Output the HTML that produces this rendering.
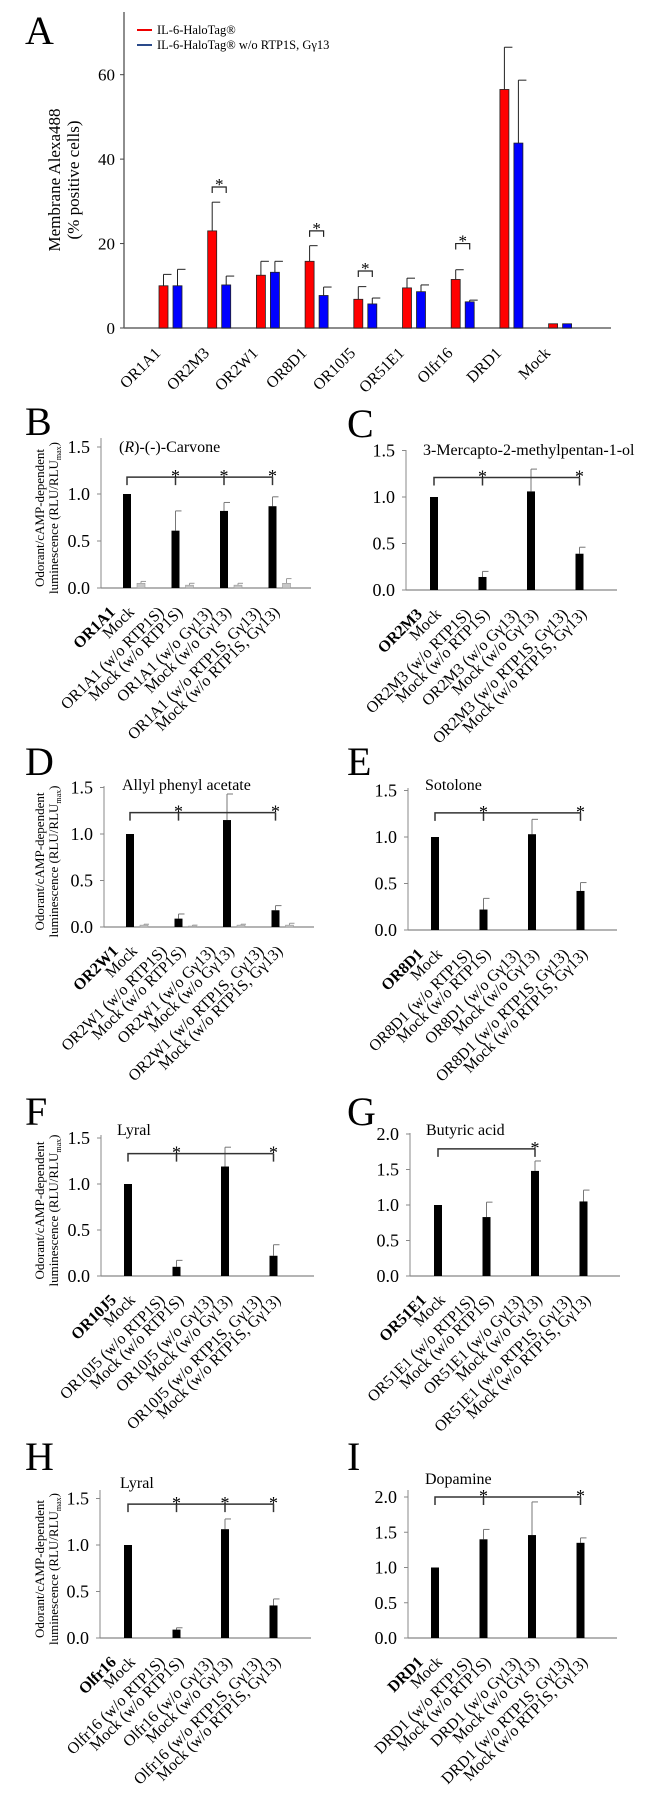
<!DOCTYPE html>
<html><head><meta charset="utf-8"><style>
html,body{margin:0;padding:0;background:#fff}
svg{display:block;font-family:"Liberation Serif","DejaVu Serif",serif}
</style></head><body>
<svg id="fig" width="657" height="1799" viewBox="0 0 657 1799">
<g id="pa"></g>
<g id="panels"></g>
</svg>
<script>
// Panel A data
const aCats = ["OR1A1","OR2M3","OR2W1","OR8D1","OR10J5","OR51E1","Olfr16","DRD1","Mock"];
const aRed = [10,23,12.5,15.8,6.8,9.5,11.5,56.5,1];
const aRedErr = [12.7,29.8,15.8,19.5,9.8,11.8,13.8,66.5,1];
const aBlue = [10,10.2,13.2,7.7,5.7,8.6,6.2,43.8,1];
const aBlueErr = [13.9,12.3,15.8,9.7,7.1,10.2,6.6,58.7,1];
const aTicks = [0,20,40,60];
const aSig = [1,3,4,6];
const aSigVal = [33.4,23,13.5,20];

// Panel B-I data
const bVals=[1,0.61,0.82,0.87], bErr=[1,0.82,0.91,0.97], bGray=[0.05,0.03,0.03,0.05], bGrayErr=[0.07,0.05,0.05,0.1], bStars=[1,2,3];
const cVals=[1,0.14,1.06,0.39], cErr=[1,0.2,1.3,0.46], cStars=[1,3];
const dVals=[1,0.09,1.15,0.18], dErr=[1,0.14,1.43,0.23], dGray=[0.02,0.01,0.02,0.02], dGrayErr=[0.03,0.02,0.03,0.04], dStars=[1,3];
const eVals=[1,0.22,1.03,0.42], eErr=[1,0.34,1.19,0.51], eStars=[1,3];
const fVals=[1,0.1,1.19,0.22], fErr=[1,0.17,1.4,0.34], fStars=[1,3];
const gVals=[1,0.83,1.48,1.05], gErr=[1,1.04,1.62,1.21], gStars=[2];
const hVals=[1,0.09,1.17,0.35], hErr=[1,0.11,1.28,0.42], hStars=[1,2,3];
const iVals=[1,1.4,1.46,1.35], iErr=[1,1.54,1.93,1.42], iStars=[1,3];
const ticks15=[0,0.5,1.0,1.5];
const ticks20=[0,0.5,1.0,1.5,2.0];

const NS="http://www.w3.org/2000/svg";
function el(parent,tag,attrs,text){const e=document.createElementNS(NS,tag);for(const k in attrs)e.setAttribute(k,attrs[k]);if(text!==undefined)e.textContent=text;parent.appendChild(e);return e;}

// ---- Panel A ----
(function(){
const g=document.getElementById('pa');
const ax=124, axEnd=611, base=328, ppu=4.222, top=12;
const y=v=>base-v*ppu;
const xr=i=>163.5+i*48.7;
let t=el(g,'text',{x:25,y:44,'font-size':40});t.textContent='A';


let l=el(g,'line',{x1:ax,y1:top,x2:ax,y2:base,stroke:'#444','stroke-width':1.2});


l=el(g,'line',{x1:ax,y1:base,x2:axEnd,y2:base,stroke:'#666','stroke-width':1.5});


aTicks.forEach(v=>{
  el(g,'line',{x1:ax-4,y1:y(v),x2:ax,y2:y(v),stroke:'#444'});
  const tt=el(g,'text',{x:ax-9,y:y(v)+6,'font-size':17,'text-anchor':'end'},String(v));
  
  
});
const yt=el(g,'text',{transform:'translate(60,180) rotate(-90)','font-size':17,'text-anchor':'middle'},'Membrane Alexa488');


const yt2=el(g,'text',{transform:'translate(79,180) rotate(-90)','font-size':17,'text-anchor':'middle'},'(% positive cells)');


el(g,'line',{x1:137,y1:30,x2:152,y2:30,stroke:'#e00','stroke-width':2});
let lt=el(g,'text',{x:157,y:34,'font-size':12.5},'IL-6-HaloTag®');


el(g,'line',{x1:137,y1:45,x2:152,y2:45,stroke:'#2a4a8a','stroke-width':2});
lt=el(g,'text',{x:157,y:49,'font-size':12.5},'IL-6-HaloTag® w/o RTP1S, Gγ13');


aCats.forEach((c,i)=>{
  const rx=xr(i), bx=rx+14;
  [[rx,aRed[i],aRedErr[i],'#f00'],[bx,aBlue[i],aBlueErr[i],'#00f']].forEach(([cx,v,e,col],k)=>{
    if(e>v+0.05){el(g,'line',{x1:cx,y1:y(e),x2:cx,y2:y(v),stroke:'#222','stroke-width':1});
      el(g,'line',{x1:cx,y1:y(e),x2:cx+8,y2:y(e),stroke:'#222','stroke-width':1});}
    const r=el(g,'rect',{x:cx-4.5,y:y(v),width:9,height:base-y(v),fill:col,stroke:'#222','stroke-width':0.8});
    
    
  });
  const lab=el(g,'text',{transform:`translate(${rx-2},354) rotate(-45)`,'font-size':16,'text-anchor':'end'},c);
  
  
});
aSig.forEach((i,k)=>{
  const x1=xr(i),x2=xr(i)+14,yy=y(aSigVal[k]);
  el(g,'path',{d:`M${x1},${yy+6}V${yy}H${x2}V${yy+6}`,fill:'none',stroke:'#222','stroke-width':1.2});
  const s=el(g,'text',{x:(x1+x2)/2,y:yy+3,'font-size':17,'text-anchor':'middle'},'*');
  
  
});
})();

// ---- Panels B-I ----
function drawPanel(p){
  const root=document.getElementById('panels');
  const g=el(root,'g',{});
  
  
  const y=v=>p.base-v*p.ppu;
  const bx=k=>p.bar0+k*48.5;
  const L=el(g,'text',{x:p.lx,y:p.ly,'font-size':40},p.letter);
  
  
  let a=el(g,'line',{x1:p.ax,y1:p.top,x2:p.ax,y2:p.base,stroke:'#888','stroke-width':1});
  
  
  a=el(g,'line',{x1:p.ax,y1:p.base,x2:p.axEnd,y2:p.base,stroke:'#888','stroke-width':1.2});
  
  
  p.ticks.forEach(v=>{
    el(g,'line',{x1:p.ax-4,y1:y(v),x2:p.ax,y2:y(v),stroke:'#888'});
    const t=el(g,'text',{x:p.ax-11,y:y(v)+6,'font-size':18,'text-anchor':'end'},v.toFixed(1));
    
    
  });
  if(p.ytitle){
    const cy=(p.top+p.base)/2+5;
    const t1=el(g,'text',{transform:`translate(44,${cy}) rotate(-90)`,'font-size':13,'text-anchor':'middle'},'Odorant/cAMP-dependent');
    
    
    const t2=el(g,'text',{transform:`translate(58,${cy}) rotate(-90)`,'font-size':13,'text-anchor':'middle'});
    
    
    t2.appendChild(document.createTextNode('luminescence (RLU/RLU'));
    el(t2,'tspan',{'font-size':8,dy:3},'max');
    el(t2,'tspan',{dy:-3},')');
  }
  const tt=el(g,'text',{x:p.tx,y:p.ty,'font-size':16});
  
  
  if(p.italicR){tt.appendChild(document.createTextNode('('));el(tt,'tspan',{'font-style':'italic'},'R');tt.appendChild(document.createTextNode(')-(-)-Carvone'));}
  else tt.textContent=p.title;
  p.vals.forEach((v,k)=>{
    const cx=bx(k);
    if(p.err[k]>v+0.005){el(g,'line',{x1:cx,y1:y(p.err[k]),x2:cx,y2:y(v),stroke:'#777','stroke-width':1});
      el(g,'line',{x1:cx,y1:y(p.err[k]),x2:cx+6,y2:y(p.err[k]),stroke:'#777','stroke-width':1});}
    const r=el(g,'rect',{x:cx-4,y:y(v),width:8,height:p.base-y(v),fill:'#000'});
    
    
    if(p.gray){
      const gx=cx+14,gv=p.gray[k],ge=p.grayErr[k];
      el(g,'line',{x1:gx,y1:y(ge),x2:gx,y2:y(gv),stroke:'#999','stroke-width':1});
      el(g,'line',{x1:gx,y1:y(ge),x2:gx+5,y2:y(ge),stroke:'#999','stroke-width':1});
      const r2=el(g,'rect',{x:gx-4,y:y(gv),width:8,height:p.base-y(gv),fill:'#c8c8c8',stroke:'#999','stroke-width':0.6});
      
      
    }
  });
  const P=p.prefix;
  const labs=[P,'Mock',P+' (w/o RTP1S)','Mock (w/o RTP1S)',P+' (w/o Gγ13)','Mock (w/o Gγ13)',P+' (w/o RTP1S, Gγ13)','Mock (w/o RTP1S, Gγ13)'];
  labs.forEach((s,j)=>{
    const k=Math.floor(j/2);
    const lx=bx(k)+(j%2?8:-11);
    const ly=p.base+25;
    const t=el(g,'text',{transform:`translate(${lx},${ly}) rotate(-45)`,'font-size':16,'text-anchor':'end','font-weight':j===0?'bold':'normal'},s);
    
    
  });
  const by=y(p.bracket), last=p.stars[p.stars.length-1];
  let d=`M${bx(0)},${by+8}V${by}H${bx(last)}`;
  p.stars.forEach(s=>{d+=`M${bx(s)},${by}V${by+8}`;});
  const br=el(g,'path',{d:d,fill:'none',stroke:'#333','stroke-width':1.5});
  
  
  p.stars.forEach(s=>{
    const st=el(g,'text',{x:bx(s),y:by+5,'font-size':18,'text-anchor':'middle'},'*');
    
    
  });
}
drawPanel({letter:'B',lx:25,ly:435,ax:101,axEnd:311,base:588,ppu:94,top:438,bar0:127,ticks:ticks15,vals:bVals,err:bErr,gray:bGray,grayErr:bGrayErr,stars:bStars,bracket:1.18,tx:119,ty:452,italicR:true,prefix:'OR1A1',ytitle:true});
drawPanel({letter:'C',lx:347,ly:437,ax:406,axEnd:617,base:590,ppu:93,top:450,bar0:434,ticks:ticks15,vals:cVals,err:cErr,stars:cStars,bracket:1.21,tx:423,ty:455,title:'3-Mercapto-2-methylpentan-1-ol',prefix:'OR2M3'});
drawPanel({letter:'D',lx:25,ly:775,ax:104,axEnd:314,base:927,ppu:93,top:786,bar0:130,ticks:ticks15,vals:dVals,err:dErr,gray:dGray,grayErr:dGrayErr,stars:dStars,bracket:1.23,tx:122,ty:790,title:'Allyl phenyl acetate',prefix:'OR2W1',ytitle:true});
drawPanel({letter:'E',lx:347,ly:775,ax:408,axEnd:617,base:930,ppu:93,top:788,bar0:435,ticks:ticks15,vals:eVals,err:eErr,stars:eStars,bracket:1.26,tx:425,ty:790,title:'Sotolone',prefix:'OR8D1'});
drawPanel({letter:'F',lx:25,ly:1125,ax:101,axEnd:314,base:1276,ppu:92,top:1135,bar0:128,ticks:ticks15,vals:fVals,err:fErr,stars:fStars,bracket:1.33,tx:117,ty:1135,title:'Lyral',prefix:'OR10J5',ytitle:true});
drawPanel({letter:'G',lx:347,ly:1125,ax:410,axEnd:620,base:1276,ppu:71,top:1133,bar0:438,ticks:ticks20,vals:gVals,err:gErr,stars:gStars,bracket:1.79,tx:426,ty:1135,title:'Butyric acid',prefix:'OR51E1'});
drawPanel({letter:'H',lx:25,ly:1470,ax:100,axEnd:311,base:1638,ppu:93,top:1490,bar0:128,ticks:ticks15,vals:hVals,err:hErr,stars:hStars,bracket:1.44,tx:120,ty:1488,title:'Lyral',prefix:'Olfr16',ytitle:true});
drawPanel({letter:'I',lx:347,ly:1470,ax:408,axEnd:617,base:1638,ppu:70.5,top:1490,bar0:435,ticks:ticks20,vals:iVals,err:iErr,stars:iStars,bracket:2.0,tx:425,ty:1484,title:'Dopamine',prefix:'DRD1'});
</script>
</body></html>
